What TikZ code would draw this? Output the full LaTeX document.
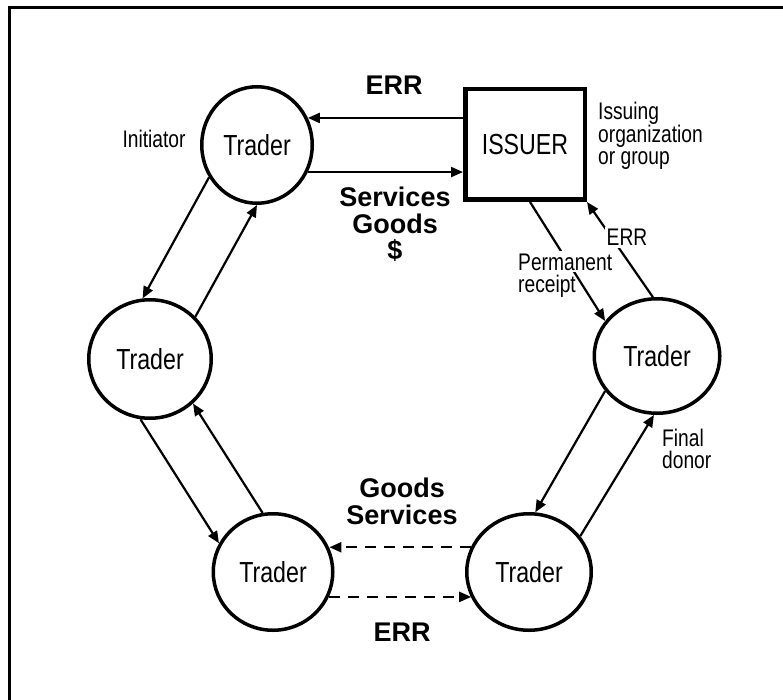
\documentclass[tikz,border=0pt]{standalone}
\usepackage{fontspec}
\setmainfont{Liberation Sans}
\newfontfamily\nar{Liberation Sans}[FakeStretch=0.8]
\usetikzlibrary{arrows.meta,shapes.geometric,calc}
\tikzset{
 trader/.style={draw, ellipse, line width=3.5pt, inner sep=0pt, font=\fontsize{29}{30}\selectfont\nar},
 issuer/.style={draw, rectangle, line width=4.5pt, inner sep=0pt, font=\fontsize{29}{30}\selectfont\nar},
 conn/.style={line width=2.2pt, -{Triangle[length=12pt,width=10pt]}},
 dconn/.style={conn, dash pattern=on 11pt off 8pt},
 small/.style={font=\fontsize{24}{21.5}\selectfont\nar, inner sep=0pt, align=left},
 big/.style={font=\fontsize{27}{26.5}\selectfont\bfseries, inner sep=0pt, align=center},
 frame/.style={line width=3pt}
}
\begin{document}
\begin{tikzpicture}[x=1pt,y=-1pt]
\useasboundingbox (0,0) rectangle (783,700);
\draw[frame] (9.5,700) -- (9.5,7.5) -- (783,7.5);
% nodes
\node[trader, minimum width=110.5pt, minimum height=116.5pt] (T1) at (257,145) {Trader};
\node[trader, minimum width=122.5pt, minimum height=118.5pt] (T2) at (150,359) {Trader};
\node[trader, minimum width=119.5pt, minimum height=116.5pt] (T3) at (273,572) {Trader};
\node[trader, minimum width=124.5pt, minimum height=116.5pt] (T4) at (529,572) {Trader};
\node[trader, minimum width=125.5pt, minimum height=114.5pt] (T5) at (657,356) {Trader};
\node[issuer, minimum width=119.5pt, minimum height=110.5pt] (I) at (525,144.5) {ISSUER};
% connectors
\draw[conn] (I.west |- T1.28) -- (T1.28);
\draw[conn] (T1.-28) -- (T1.-28 -| I.west);
\draw[conn] (T1.-146) -- (T2.97);
\draw[conn] (T2.43) -- (T1.-90);
\draw[conn] (T2.-99) -- (T3.152);
\draw[conn] (T3.100) -- (T2.-46);
\draw[dconn] (T4.157) -- (T4.157 -| T3.23);
\draw[dconn] (T3.-24) -- (T3.-24 -| T4.-156);
\draw[conn] (T4.35) -- (T5.-93);
\draw[conn] (T5.-146) -- (T4.84);
\draw[conn] ([xshift=5pt]I.south) -- (T5.146);
\draw[conn] (T5.94) -- (I.south east);
% labels
\node[small, anchor=base] (init) at (154,148) {Initiator};
\node[small, anchor=north west] (iss) at (598,102) {Issuing\\organization\\or group};
\node[big, anchor=base] (err1) at (394,95) {ERR};
\node[big, anchor=north] (sgd) at (395,187) {Services\\Goods\\\$};
\node[small, anchor=base west, fill=white, inner sep=2pt] (perm) at (516,270) {Permanent};
\node[small, anchor=base west] (rec) at (518,292) {receipt};
\node[small, anchor=base, fill=white, inner sep=2pt] (err2) at (627,246) {ERR};
\node[small, anchor=north west, font=\fontsize{24}{22}\selectfont\nar] (fd) at (662,429) {Final\\donor};
\node[big, anchor=north] (gs) at (402,478) {Goods\\Services};
\node[big, anchor=base] (err3) at (402,641) {ERR};
\end{tikzpicture}
\end{document}
